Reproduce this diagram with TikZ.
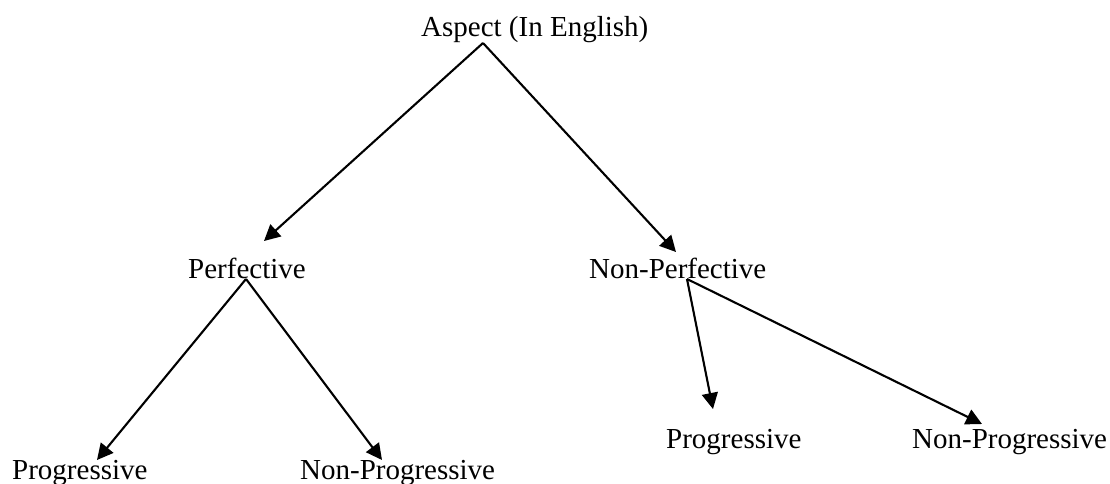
\documentclass[tikz,border=0pt]{standalone}
\usepackage{fontspec}
\setmainfont{Liberation Serif}
\usetikzlibrary{arrows.meta}
\begin{document}
\begin{tikzpicture}[x=1pt,y=-1pt,
  lbl/.style={anchor=base west,inner sep=0pt,font=\fontsize{29}{34}\selectfont},
  link/.style={line width=2.1pt,-{Triangle[length=16pt,width=16pt]}}]
\useasboundingbox (0,0) rectangle (1110,484);
% labels of the tree
\node[lbl] (asp)    at (421,37)  {Aspect (In English)};
\node[lbl] (perf)   at (188,278) {Perfective};
\node[lbl] (nperf)  at (589,278) {Non-Perfective};
\node[lbl] (prog1)  at (12,479)  {Progressive};
\node[lbl] (nprog1) at (300,479) {Non-Progressive};
\node[lbl] (prog2)  at (666,448) {Progressive};
\node[lbl] (nprog2) at (912,448) {Non-Progressive};
% branches
\draw[link] ([shift={(62,6)}]asp.base west) -- ([shift={(76,-37)}]perf.base west);
\draw[link] ([shift={(62,6)}]asp.base west) -- ([shift={(87,-26)}]nperf.base west);
\draw[link] ([shift={(58,1)}]perf.base west) -- ([shift={(85,-19)}]prog1.base west);
\draw[link] ([shift={(58,1)}]perf.base west) -- ([shift={(82,-19)}]nprog1.base west);
\draw[link] ([shift={(98,1)}]nperf.base west) -- ([shift={(47,-39)}]prog2.base west);
\draw[link] ([shift={(98,1)}]nperf.base west) -- ([shift={(70,-24)}]nprog2.base west);
\end{tikzpicture}
\end{document}
